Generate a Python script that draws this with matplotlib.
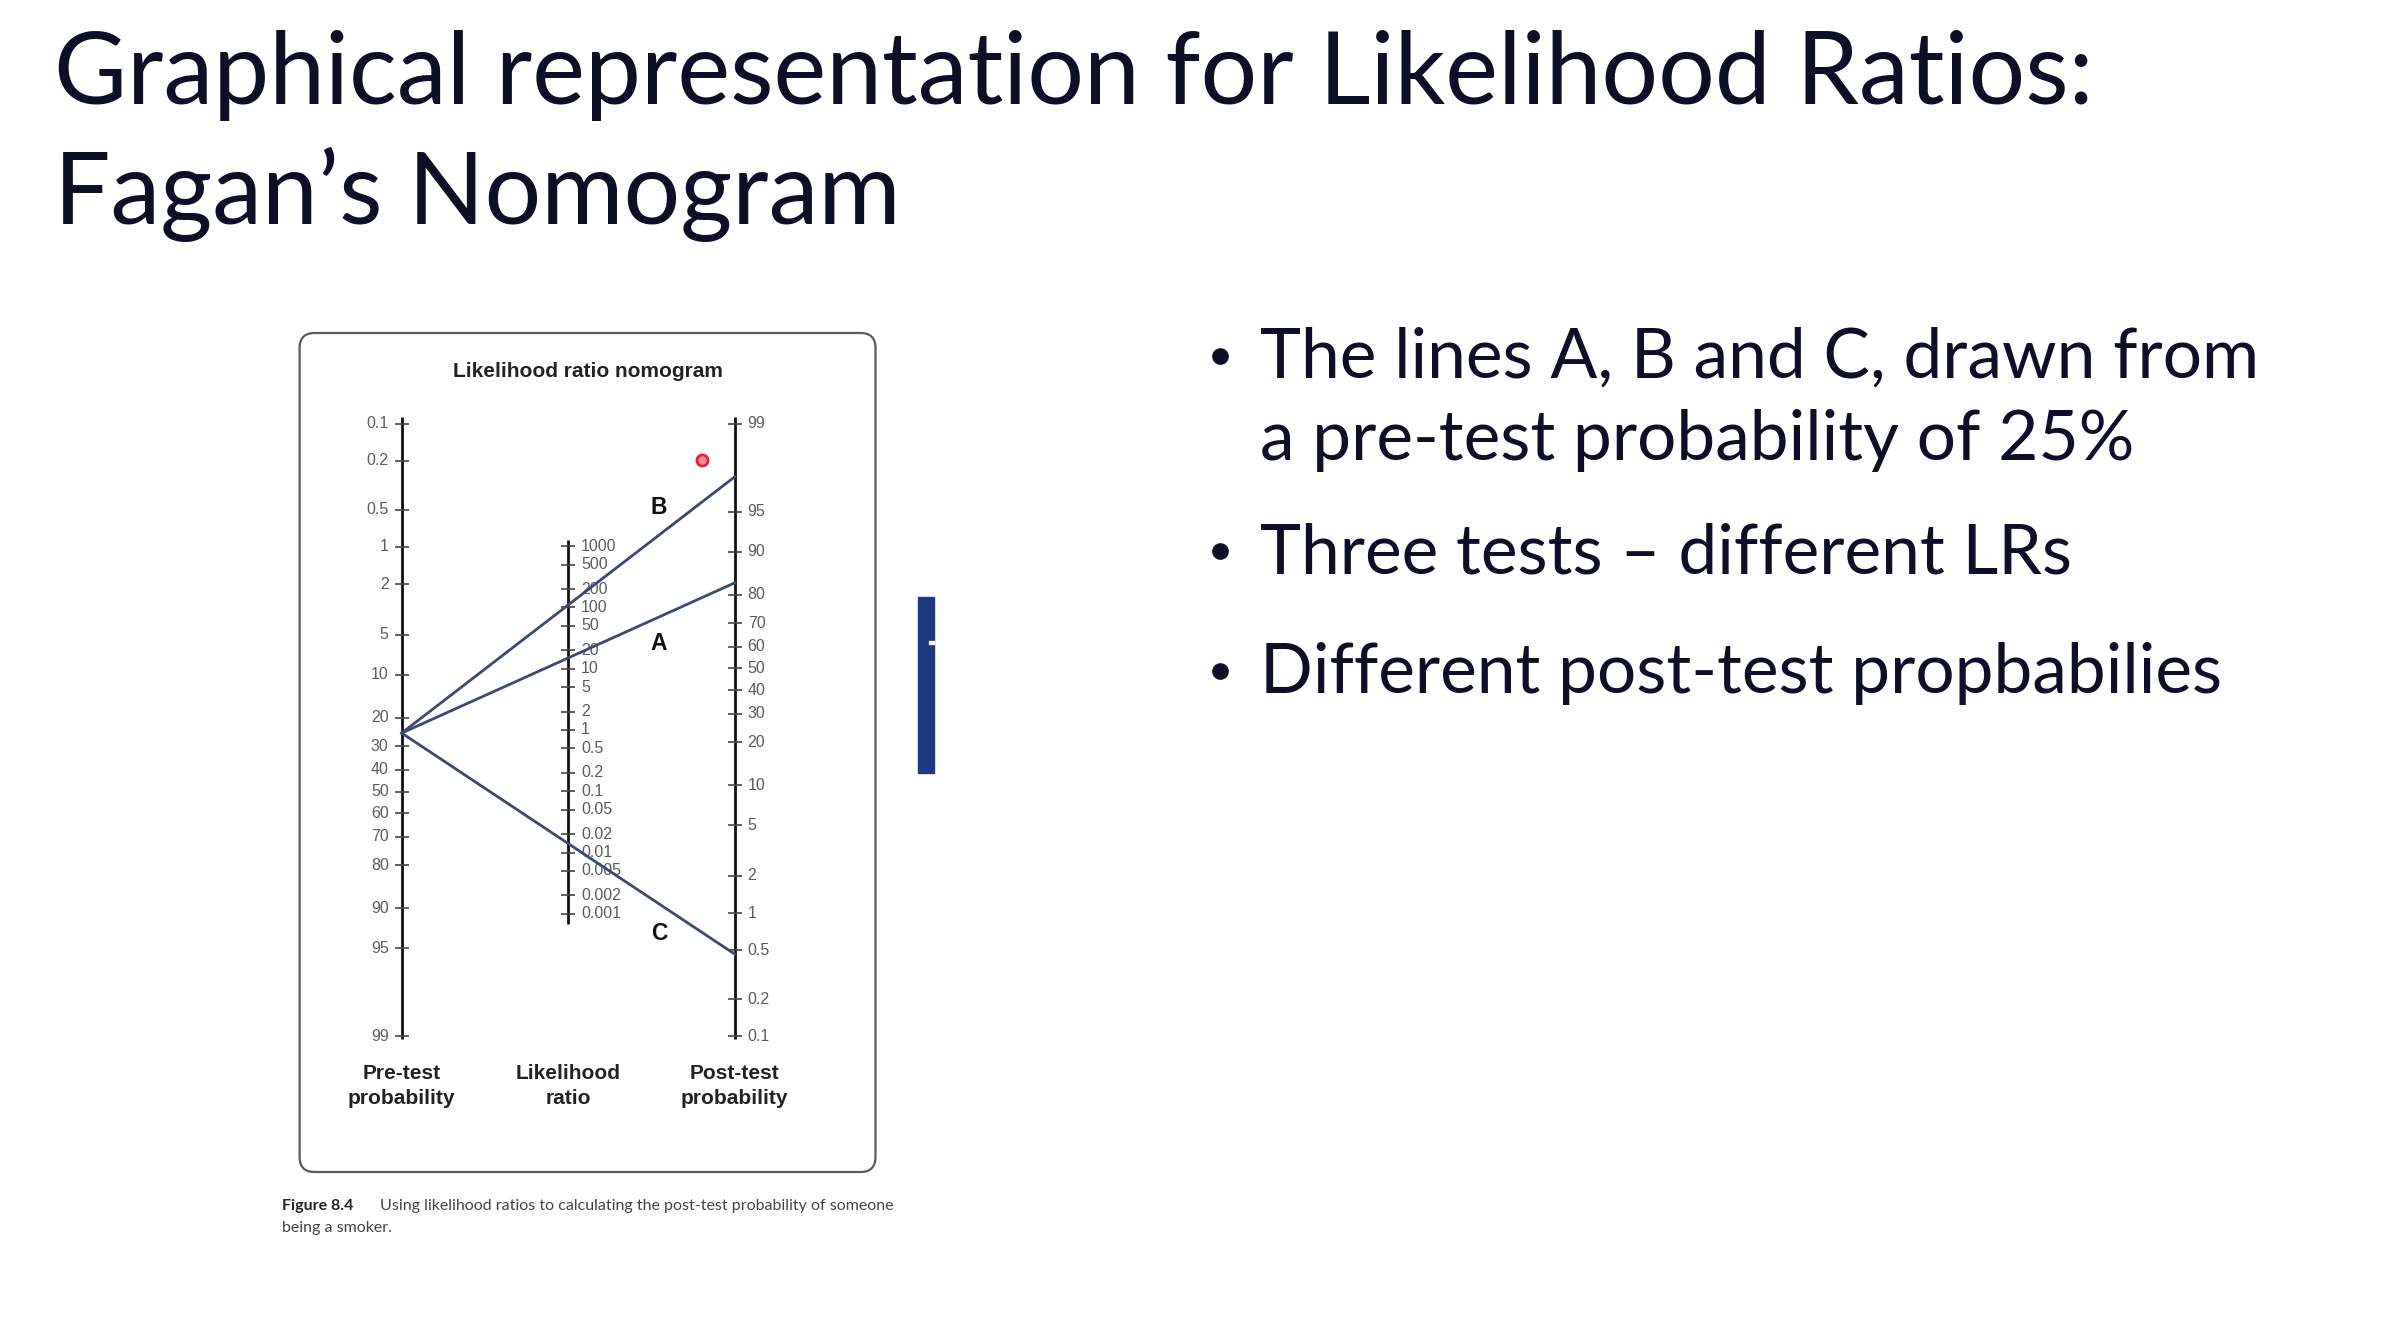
import numpy as np
import matplotlib
matplotlib.use("Agg")
import matplotlib.pyplot as plt
from matplotlib.patches import FancyBboxPatch, Rectangle
from matplotlib.transforms import offset_copy

# ---- slide text ----
slide_title = ["Graphical representation for Likelihood Ratios:", "Fagan\u2019s Nomogram"]
bullets = [["The lines A, B and C, drawn from", "a pre-test probability of 25%"],
           ["Three tests \u2013 different LRs"],
           ["Different post-test propbabilies"]]
caption_head = "Figure 8.4"
caption_lines = ["Using likelihood ratios to calculating the post-test probability of someone",
                 "being a smoker."]

# ---- nomogram scales ----
pre_ticks = [0.1, 0.2, 0.5, 1, 2, 5, 10, 20, 30, 40, 50, 60, 70, 80, 90, 95, 99]
post_ticks = [99, 95, 90, 80, 70, 60, 50, 40, 30, 20, 10, 5, 2, 1, 0.5, 0.2, 0.1]
lr_ticks = [1000, 500, 200, 100, 50, 20, 10, 5, 2, 1, 0.5, 0.2, 0.1,
            0.05, 0.02, 0.01, 0.005, 0.002, 0.001]
axis_names = ["Pre-test\nprobability", "Likelihood\nratio", "Post-test\nprobability"]

# ---- the three tests ----
pretest = 25
line_names = ["A", "B", "C"]
line_lr = [15, 110, 0.014]

W, H = 2400, 1320
fig = plt.figure(figsize=(W / 100, H / 100), dpi=100)
fig.patch.set_facecolor("white")

# page axes in pixel coordinates (origin top-left)
page = fig.add_axes([0, 0, 1, 1])
page.set_xlim(0, W)
page.set_ylim(H, 0)
page.axis("off")

slide_font = "Lato"
text_col = "#0e0e26"

for i, line in enumerate(slide_title):
    page.text(54, [104, 224][i], line, fontsize=72, family=slide_font,
              color=text_col, va="baseline", ha="left")

baselines = [[378, 460], [573], [693]]
for blines, ys in zip(bullets, baselines):
    page.plot([1220], [ys[0] - 22], marker="o", ms=11, color=text_col)
    for line, y in zip(blines, ys):
        page.text(1260, y, line, fontsize=50, family=slide_font,
                  color=text_col, va="baseline")

# blue bar at the right of the figure
page.add_patch(Rectangle((918, 597), 16, 176, color="#1b3a82", zorder=2))
page.add_patch(Rectangle((929, 641), 5, 3, color="white", zorder=3))

# figure frame
box_l, box_r, box_t, box_b = 299.6, 875.5, 333, 1172
page.add_patch(FancyBboxPatch((box_l, box_t), box_r - box_l, box_b - box_t,
                              boxstyle="round,pad=0,rounding_size=15",
                              fc="white", ec="#5a5a5a", lw=1.6, zorder=1))

# caption
page.text(282, 1210, caption_head, fontsize=11.5, family=slide_font,
          weight="bold", color="#222222", va="baseline")
page.text(380, 1210, caption_lines[0], fontsize=11.5, family=slide_font,
          color="#444444", va="baseline")
page.text(282, 1232, caption_lines[1], fontsize=11.5, family=slide_font,
          color="#444444", va="baseline")

# ---- nomogram ----
nom_font = "Liberation Sans"


def logit(p):
    p = np.asarray(p, dtype=float) / 100
    return np.log(p / (1 - p))


shift = logit(0.1) + logit(99)


def y_pre(p):
    return logit(p)


def y_post(p):
    return -logit(p) + shift


def y_lr(lr):
    return (-np.log(np.asarray(lr, dtype=float)) + shift) / 2


px_per_unit_x, px_per_unit_y = 166.5, 53.21
x0_px, y0_px = 401.7, 791.5
nom = fig.add_axes([box_l / W, 1 - box_b / H, (box_r - box_l) / W, (box_b - box_t) / H])
nom.set_xlim((box_l - x0_px) / px_per_unit_x, (box_r - x0_px) / px_per_unit_x)
nom.set_ylim((box_b - y0_px) / px_per_unit_y, (box_t - y0_px) / px_per_unit_y)
nom.patch.set_alpha(0)
nom.axis("off")

axis_col = "#111111"
tick_col = "#5c5c5c"
left_off = offset_copy(nom.transData, fig=fig, x=-13, y=0, units="dots")
right_off = offset_copy(nom.transData, fig=fig, x=13, y=0, units="dots")

scales = [(0, pre_ticks, y_pre(pre_ticks), left_off, "right", 0.13, 0.05),
          (1, lr_ticks, y_lr(lr_ticks), right_off, "left", 0.12, 0.2),
          (2, post_ticks, y_post(post_ticks), right_off, "left", 0.14, 0.05)]
for x, labels, ys, tr, ha, pad_top, pad_bot in scales:
    nom.plot([x, x], [ys.min() - pad_top, ys.max() + pad_bot], color=axis_col, lw=2,
             solid_capstyle="butt", zorder=3)
    nom.plot(np.full(len(ys), x), ys, ls="none", marker="_", ms=10, mew=1.2,
             color="#444444", zorder=3)
    for lab, y in zip(labels, ys):
        nom.text(x, y, "{:g}".format(lab), transform=tr, ha=ha, va="center",
                 fontsize=11.5, family=nom_font, color=tick_col)

# test lines
y_start = y_pre(pretest)
for name, lr in zip(line_names, line_lr):
    y_end = -(logit(pretest) + np.log(lr)) + shift
    nom.plot([0, 2], [y_start, y_end], color="#3a4a72", lw=2, zorder=4)

# letters A, B, C
for name, (lx, ly) in zip(line_names, [(659, 643), (659, 508), (659, 933)]):
    page.text(lx, ly, name, fontsize=16.5, family=nom_font, weight="bold",
              color="#111111", ha="center", va="center", zorder=5)

# nomogram title and axis names
page.text((box_l + box_r) / 2, 377, "Likelihood ratio nomogram", fontsize=15,
          family=nom_font, weight="bold", color="#222222", ha="center",
          va="baseline", zorder=5)
for x_px, name in zip([401.7, 568.2, 734.7], axis_names):
    for k, part in enumerate(name.split("\n")):
        page.text(x_px, [1079, 1104][k], part, fontsize=15, family=nom_font,
                  weight="bold", color="#222222", ha="center", va="baseline", zorder=5)

# laser pointer dot seen on the slide
page.plot([702], [460], marker="o", ms=8, mfc="#ff8a9a", mec="#e8203a", mew=2,
          zorder=6)

fig.savefig("out.png", dpi=100)
